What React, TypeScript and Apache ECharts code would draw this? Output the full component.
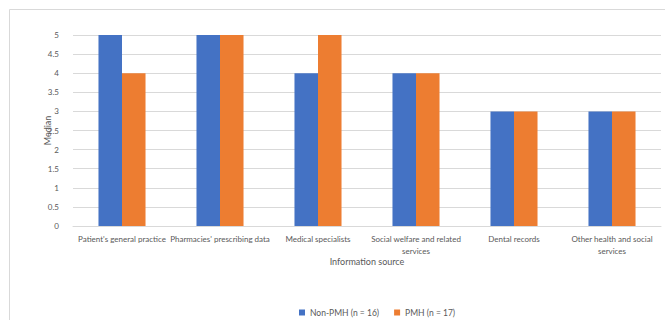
import React, { useEffect, useRef } from "react";
import * as echarts from "echarts";

const categories = [
  "Patient's general practice",
  "Pharmacies' prescribing data",
  "Medical specialists",
  "Social welfare and related\nservices",
  "Dental records",
  "Other health and social\nservices",
];
const nonPmh = [5, 5, 4, 4, 3, 3];
const pmh = [4, 5, 5, 4, 3, 3];
const seriesNames = ["Non-PMH (n = 16)", "PMH (n = 17)"];

const FONT = "Lato, 'Open Sans', sans-serif";

export default function App() {
  const ref = useRef<HTMLDivElement>(null);
  useEffect(() => {
    const chart = echarts.init(ref.current!, null, { renderer: "svg" });
    chart.setOption({
      animation: false,
      backgroundColor: "#fff",
      textStyle: { fontFamily: FONT },
      graphic: [
        { type: "line", shape: { x1: 9.5, y1: 9.5, x2: 665, y2: 9.5 }, style: { stroke: "#d9d9d9", lineWidth: 1 } },
        { type: "line", shape: { x1: 9.5, y1: 9.5, x2: 9.5, y2: 320 }, style: { stroke: "#d9d9d9", lineWidth: 1 } },
      ],
      grid: { left: 73, right: 4, top: 35, bottom: 94, containLabel: false },
      legend: {
        bottom: -2,
        left: 294,
        itemWidth: 6,
        itemHeight: 6,
        itemGap: 15,
        icon: "rect",
        textStyle: { fontSize: 8.5, color: "#595959", fontFamily: FONT },
        data: seriesNames,
      },
      xAxis: {
        type: "category",
        data: categories,
        name: "Information source",
        nameLocation: "middle",
        nameGap: 31,
        nameMoveOverlap: false,
        nameTextStyle: { fontSize: 9, color: "#595959", fontFamily: FONT },
        axisLine: { show: true, lineStyle: { color: "#d9d9d9" } },
        axisTick: { show: false },
        axisLabel: { fontSize: 8, color: "#595959", interval: 0, margin: 7, lineHeight: 12, fontFamily: FONT, hideOverlap: false },
      },
      yAxis: {
        type: "value",
        min: 0,
        max: 5,
        interval: 0.5,
        name: "Median",
        nameLocation: "middle",
        nameGap: 21,
        nameMoveOverlap: false,
        nameTextStyle: { fontSize: 9, color: "#595959", fontFamily: FONT },
        axisLine: { show: false },
        axisTick: { show: false },
        axisLabel: { fontSize: 8, color: "#595959", margin: 14, fontFamily: FONT, hideOverlap: false },
        splitLine: { lineStyle: { color: "#d9d9d9" } },
      },
      series: [
        {
          name: seriesNames[0],
          type: "bar",
          data: nonPmh,
          barWidth: "24%",
          barGap: "0%",
          itemStyle: { color: "#4472c4" },
        },
        {
          name: seriesNames[1],
          type: "bar",
          data: pmh,
          barWidth: "24%",
          itemStyle: { color: "#ed7d31" },
        },
      ],
    });
    return () => chart.dispose();
  }, []);
  return (
    <div
      ref={ref}
      style={{ position: "absolute", left: 0, top: 0, width: 665, height: 320 }}
    />
  );
}
